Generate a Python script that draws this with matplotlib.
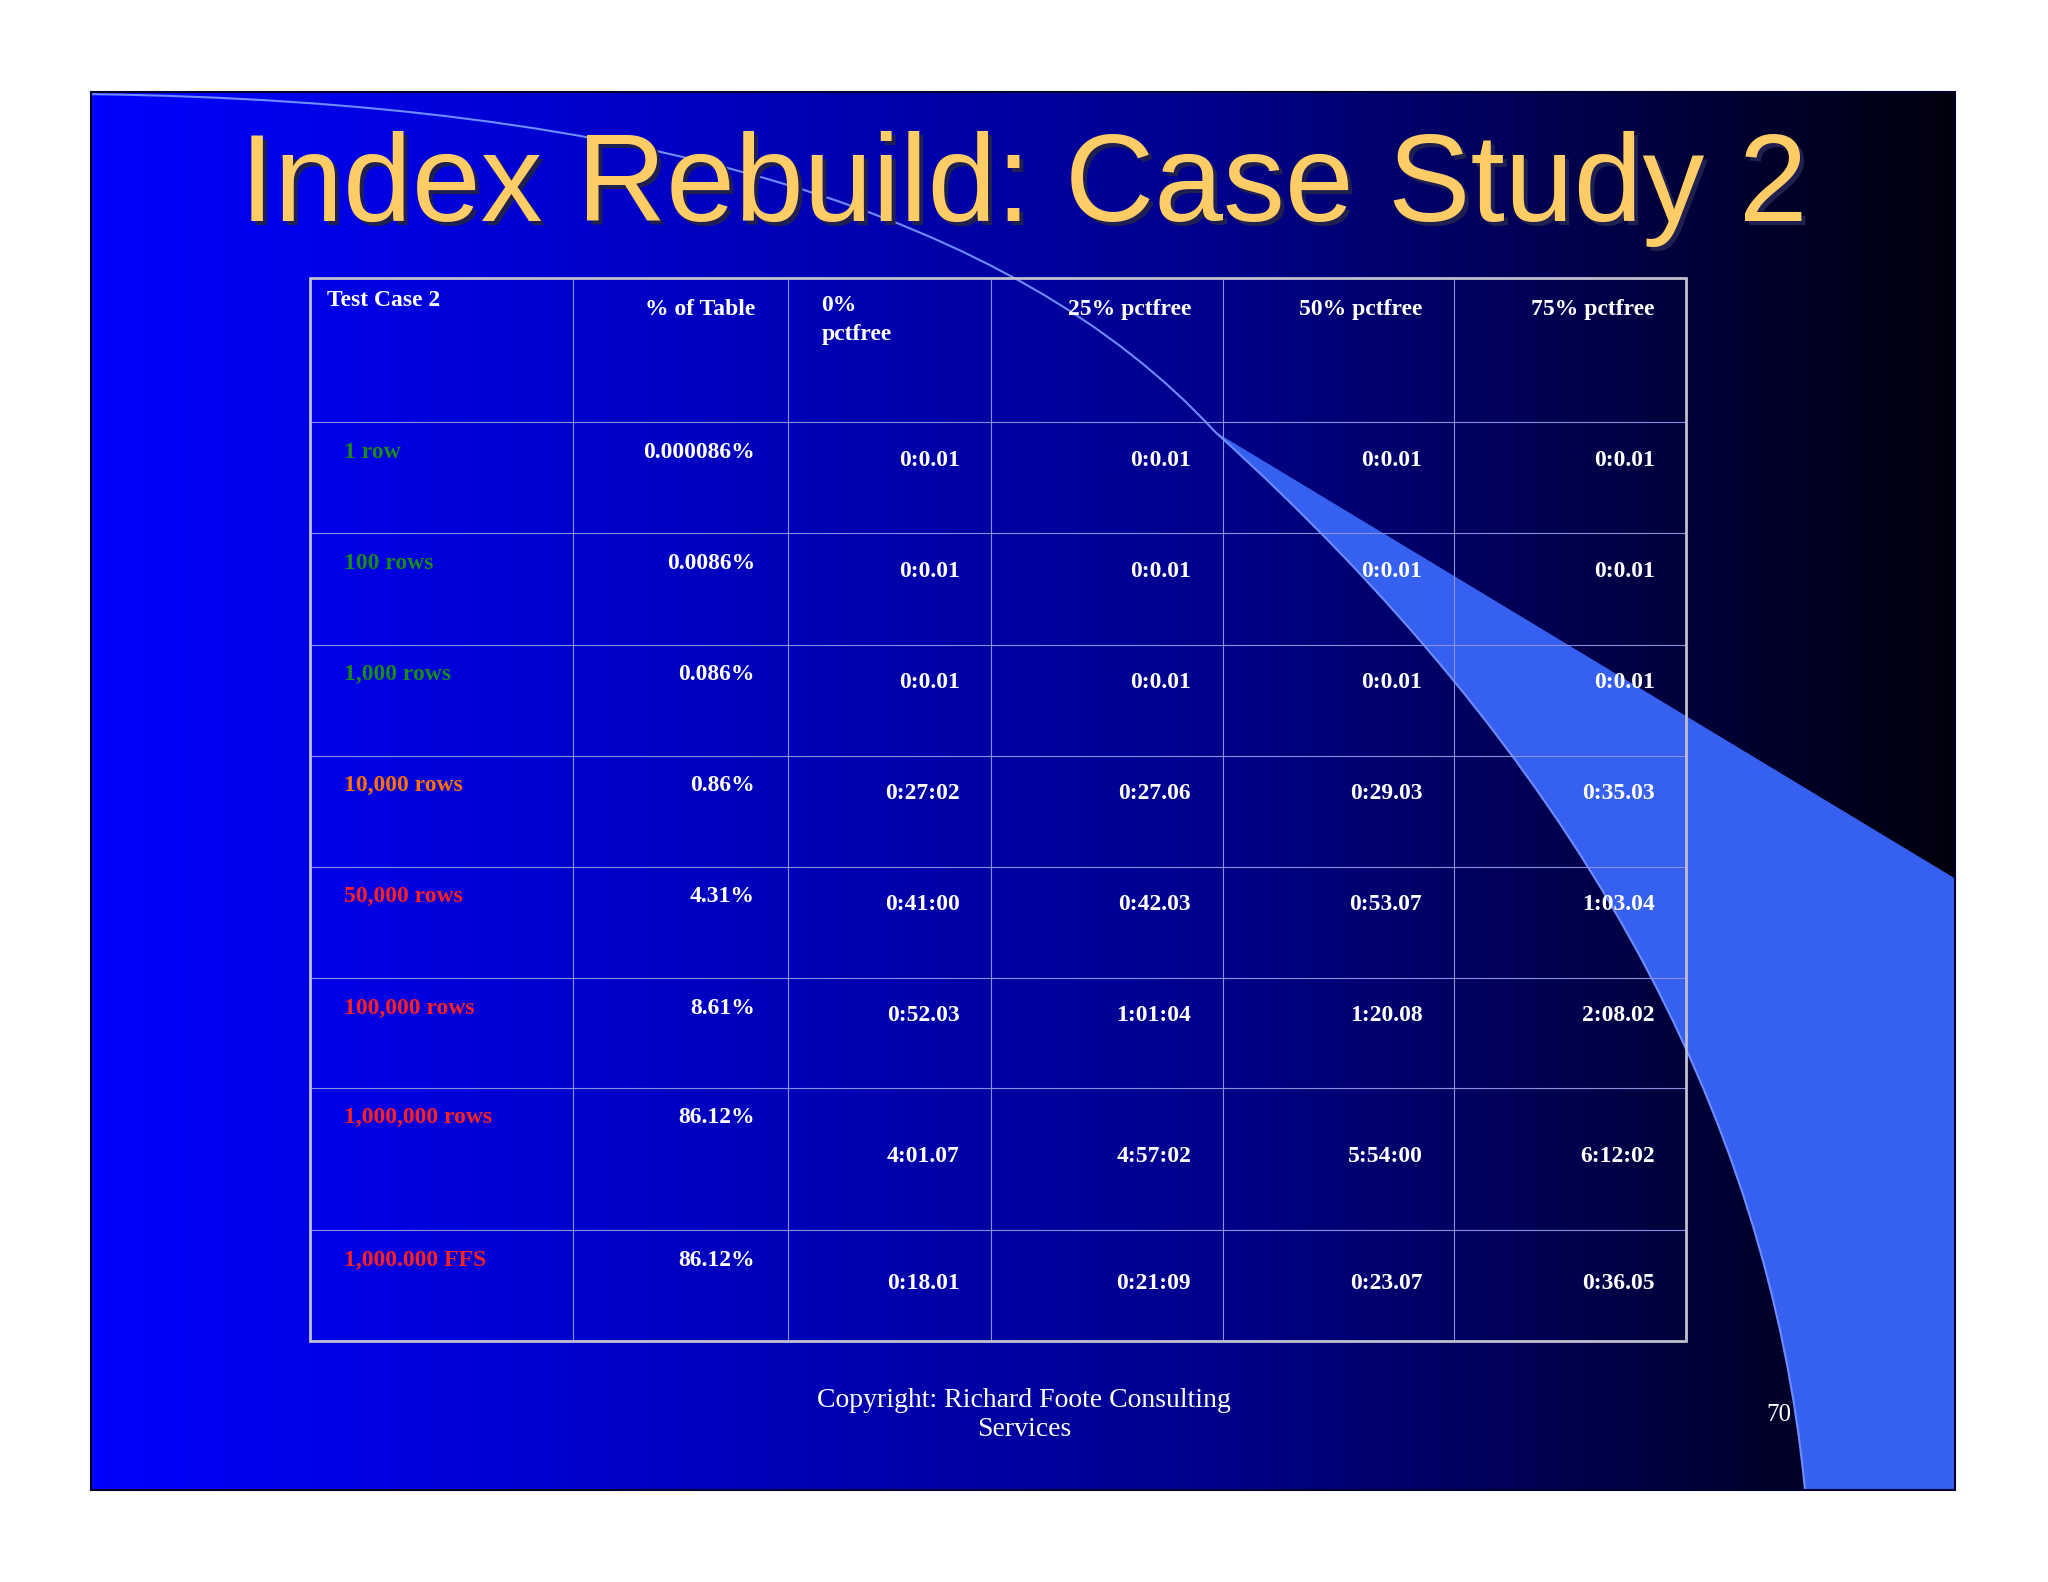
import numpy as np
import matplotlib
matplotlib.use("Agg")
import matplotlib.pyplot as plt
from matplotlib.patches import Polygon, Rectangle, PathPatch
from matplotlib.path import Path

title = "Index Rebuild: Case Study 2"
headers = ["Test Case 2", "% of Table", "0%\npctfree", "25% pctfree", "50% pctfree", "75% pctfree"]
row_labels = ["1 row", "100 rows", "1,000 rows", "10,000 rows", "50,000 rows",
              "100,000 rows", "1,000,000 rows", "1,000.000 FFS"]
row_colors = ["#1a8a1a", "#1a8a1a", "#1a8a1a", "#ff7000", "#ff2020", "#ff2020", "#ff2020", "#ff2020"]
pct_table = ["0.000086%", "0.0086%", "0.086%", "0.86%", "4.31%", "8.61%", "86.12%", "86.12%"]
pct0 = ["0:0.01", "0:0.01", "0:0.01", "0:27:02", "0:41:00", "0:52.03", "4:01.07", "0:18.01"]
pct25 = ["0:0.01", "0:0.01", "0:0.01", "0:27.06", "0:42.03", "1:01:04", "4:57:02", "0:21:09"]
pct50 = ["0:0.01", "0:0.01", "0:0.01", "0:29.03", "0:53.07", "1:20.08", "5:54:00", "0:23.07"]
pct75 = ["0:0.01", "0:0.01", "0:0.01", "0:35.03", "1:03.04", "2:08.02", "6:12:02", "0:36.05"]
footer = "Copyright: Richard Foote Consulting\nServices"
page = "70"

W, H = 1568, 1210
fig = plt.figure(figsize=(20.48, 15.82), dpi=100)
ax = fig.add_axes([0, 0, 1, 1])
ax.set_xlim(0, W); ax.set_ylim(H, 0); ax.axis("off")
fig.patch.set_facecolor("white")

# slide background gradient
x0, x1, y0, y1 = 70, 1497, 70, 1140
t = np.linspace(0, 1, 512)
c0 = np.array([0, 0, 1.0]); cm = np.array([0, 0, 0.55]); c1 = np.array([0, 0, 0.05])
cols = np.array([c0 + (cm - c0) * (v / 0.6) if v < 0.6 else cm + (c1 - cm) * ((v - 0.6) / 0.4) for v in t])
ax.imshow(cols[None, :, :], extent=[x0, x1, y1, y0], aspect="auto", zorder=0)

# swoosh band
verts = [(930, 330), (1497, 672), (1497, 1140), (1382, 1140),
         (1370, 900), (1250, 650), (930, 330)]
codes = [Path.MOVETO, Path.LINETO, Path.LINETO, Path.LINETO, Path.CURVE3, Path.CURVE3, Path.CURVE3]
ax.add_patch(PathPatch(Path([(930, 330), (1497, 672), (1497, 1140), (1382, 1140),
                             (1340, 700), (930, 330)],
                            [Path.MOVETO, Path.LINETO, Path.LINETO, Path.LINETO, Path.CURVE3, Path.CURVE3]),
                       facecolor="#3560f0", edgecolor="none", zorder=1))
# thin arc line
ax.add_patch(PathPatch(Path([(70, 72), (700, 80), (930, 330), (1340, 700), (1382, 1140)],
                            [Path.MOVETO, Path.CURVE3, Path.CURVE3, Path.CURVE3, Path.CURVE3]),
                       facecolor="none", edgecolor="#6f8cff", lw=1.5, zorder=2))
ax.add_patch(Rectangle((x0, y0), x1 - x0, y1 - y0, fill=False, edgecolor="#000030", lw=1.5, zorder=2))

# title
ax.text(787, 172, title, color="#202050", fontsize=89, family="Liberation Sans", ha="center", va="baseline", zorder=3)
ax.text(784, 169, title, color="#ffcc66", fontsize=89, family="Liberation Sans", ha="center", va="baseline", zorder=4)

# table
xs = [237, 439, 603, 759, 936, 1113, 1291]
ys = [213, 323, 408, 493, 578, 663, 748, 832, 941, 1026]
for x in xs[1:-1]:
    ax.plot([x, x], [ys[0], ys[-1]], color="#8890e0", lw=0.8, zorder=5)
for y in ys[1:-1]:
    ax.plot([xs[0], xs[-1]], [y, y], color="#8890e0", lw=0.8, zorder=5)
ax.add_patch(Rectangle((xs[0], ys[0]), xs[-1] - xs[0], ys[-1] - ys[0], fill=False,
                       edgecolor="#c0c0d0", lw=2, zorder=5))

tf = dict(family="Liberation Serif", fontweight="bold", fontsize=17, zorder=6)
ax.text(250, 230, headers[0], color="white", ha="left", va="center", **tf)
ax.text(578, 237, headers[1], color="white", ha="right", va="center", **tf)
ax.text(629, 237, headers[2], color="white", ha="left", va="top", linespacing=1.3, **tf) if False else None
ax.text(629, 226, headers[2], color="white", ha="left", va="top", linespacing=1.45, **tf)
for i, h in enumerate(headers[3:]):
    ax.text(xs[i + 4] - 24, 237, h, color="white", ha="right", va="center", **tf)

cols_data = [pct0, pct25, pct50, pct75]
for r in range(len(row_labels)):
    top = ys[r + 1]
    bot = ys[r + 2]
    ax.text(263, top + 23, row_labels[r], color=row_colors[r], ha="left", va="center", **tf)
    ax.text(578, top + 23, pct_table[r], color="white", ha="right", va="center", **tf)
    ymid = (top + bot) / 2 - (0 if r < 6 else 2)
    if r < 6:
        ymid = top + 29
    for c, col in enumerate(cols_data):
        ax.text(xs[c + 3] - 24, ymid, col[r], color="white", ha="right", va="center", **tf)

ax.text(784, 1082, footer, color="white", family="Liberation Serif", fontsize=20,
        ha="center", va="center", linespacing=1.2, zorder=6)
ax.text(1362, 1082, page, color="white", family="Liberation Serif", fontsize=18,
        ha="center", va="center", zorder=6)

fig.savefig("out.png", dpi=100, facecolor="white")
